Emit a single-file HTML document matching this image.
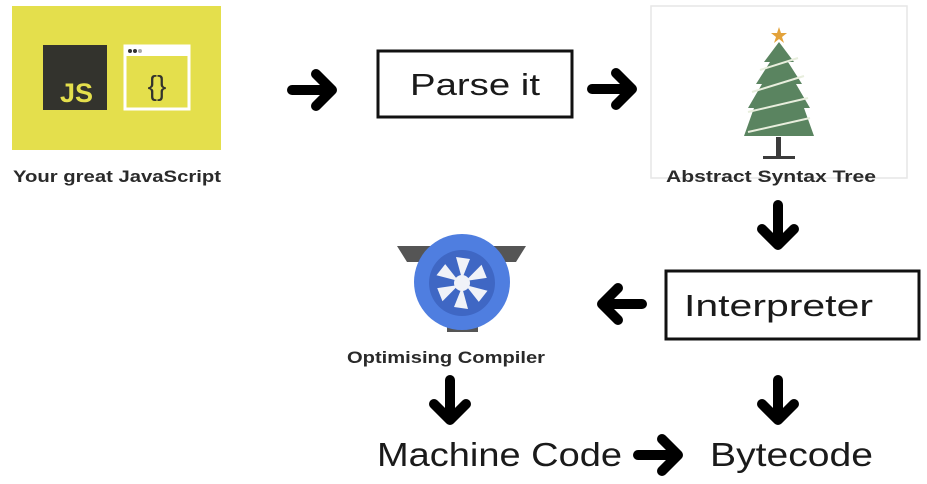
<!DOCTYPE html>
<html><head><meta charset="utf-8"><style>
html,body{margin:0;padding:0;background:#fff;width:927px;height:484px;overflow:hidden}
svg{display:block}
text{font-family:"Liberation Sans",sans-serif;fill:#1a1a1a}
</style></head><body>
<svg width="927" height="484" viewBox="0 0 927 484" xmlns="http://www.w3.org/2000/svg">
<defs>
<g id="ar"><path d="M-20 0 H20 M4 -16 L20 0 L4 16" fill="none" stroke="#000" stroke-width="10" stroke-linecap="round" stroke-linejoin="round"/></g>
</defs>
<rect x="12" y="6" width="209" height="144" fill="#e4df4c"/>
<rect x="43" y="45" width="64" height="65" fill="#33332d"/>
<text x="60" y="102" font-size="27" font-weight="bold" style="fill:#e4df4c">JS</text>
<rect x="125" y="46" width="64" height="63" fill="#e4df4c" stroke="#fff" stroke-width="3"/>
<rect x="125" y="46" width="64" height="10" fill="#fff"/>
<circle cx="130" cy="51" r="2" fill="#333"/><circle cx="135" cy="51" r="2" fill="#333"/><circle cx="140" cy="51" r="2" fill="#aaa"/>
<text x="157" y="95" font-size="28" text-anchor="middle" style="fill:#33332d">{}</text>
<text x="13" y="182" font-size="17" font-weight="bold" textLength="208" lengthAdjust="spacingAndGlyphs" style="fill:#2a2a2a">Your great JavaScript</text>
<use href="#ar" x="312" y="90"/>
<rect x="378" y="51" width="194" height="66" fill="none" stroke="#111" stroke-width="3"/>
<text x="410" y="95" font-size="31" textLength="130" lengthAdjust="spacingAndGlyphs">Parse it</text>
<use href="#ar" x="612" y="89"/>
<rect x="651" y="6" width="256" height="172" fill="none" stroke="#e6e6e6" stroke-width="1.5"/>
<polygon points="779,27 781,33 787,33 782,37 784,43 779,39 774,43 776,37 771,33 777,33" fill="#e3a23a"/>
<polygon points="779,42 794,62 788,62 802,84 796,84 810,108 804,108 814,136 744,136 754,108 748,108 762,84 756,84 770,62 764,62" fill="#5a8460"/>
<path d="M760 70 L798 58 M752 92 L804 76 M748 112 L808 98 M748 132 L810 118" stroke="#e8eedd" stroke-width="2"/>
<rect x="776" y="137" width="5" height="20" fill="#3b3b3b"/>
<rect x="763" y="156" width="32" height="3" fill="#3b3b3b"/>
<text x="666" y="182" font-size="17" font-weight="bold" textLength="210" lengthAdjust="spacingAndGlyphs" style="fill:#2a2a2a">Abstract Syntax Tree</text>
<use href="#ar" x="778" y="225" transform="rotate(90 778 225)"/>
<rect x="666" y="271" width="253" height="68" fill="none" stroke="#111" stroke-width="3"/>
<text x="684" y="316" font-size="31" textLength="189" lengthAdjust="spacingAndGlyphs">Interpreter</text>
<use href="#ar" x="622" y="304" transform="rotate(180 622 304)"/>
<polygon points="397,246 526,246 516,262 407,262" fill="#555"/>
<rect x="447" y="310" width="31" height="22" fill="#555"/>
<circle cx="462" cy="282" r="48" fill="#4f7ee0"/>
<circle cx="462" cy="283" r="33" fill="#3f67c4"/>
<g fill="#f0f2f8" transform="translate(462 283)">
<path d="M0 -4 L-6 -26 L8 -24 Z"/>
<path d="M0 -4 L-6 -26 L8 -24 Z" transform="rotate(60)"/>
<path d="M0 -4 L-6 -26 L8 -24 Z" transform="rotate(120)"/>
<path d="M0 -4 L-6 -26 L8 -24 Z" transform="rotate(180)"/>
<path d="M0 -4 L-6 -26 L8 -24 Z" transform="rotate(240)"/>
<path d="M0 -4 L-6 -26 L8 -24 Z" transform="rotate(300)"/>
<circle r="8"/>
</g>
<text x="347" y="363" font-size="17" font-weight="bold" textLength="198" lengthAdjust="spacingAndGlyphs" style="fill:#2a2a2a">Optimising Compiler</text>
<use href="#ar" x="450" y="400" transform="rotate(90 450 400)"/>
<use href="#ar" x="778" y="400" transform="rotate(90 778 400)"/>
<text x="377" y="466" font-size="33" textLength="245" lengthAdjust="spacingAndGlyphs">Machine Code</text>
<use href="#ar" x="658" y="455"/>
<text x="710" y="466" font-size="33" textLength="163" lengthAdjust="spacingAndGlyphs">Bytecode</text>
</svg>
</body></html>
